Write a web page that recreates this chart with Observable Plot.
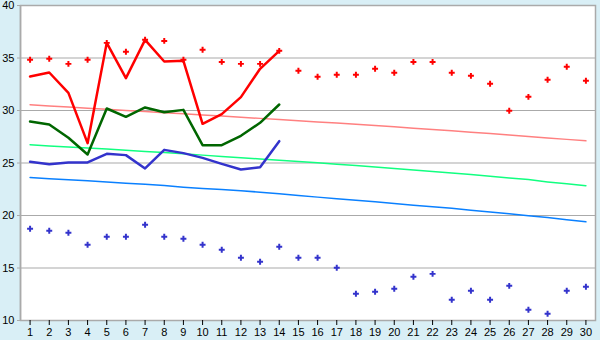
<!DOCTYPE html>
<html><head><meta charset="utf-8">
<script src="https://cdn.jsdelivr.net/npm/d3@7"></script>
<script src="https://cdn.jsdelivr.net/npm/@observablehq/plot@0.6"></script>
<style>
html,body{margin:0;padding:0;background:#d9eff6;}
#chart svg{display:block;}
</style>
</head><body><div id="chart"></div>
<script>
const days = d3.range(1, 31);
const yTicks = [10, 15, 20, 25, 30, 35, 40];
const redLine = [33.24,33.62,31.68,26.89,36.44,33.08,36.73,34.67,34.73,28.73,29.65,31.27,33.97,35.68];
const greenLine = [28.95,28.67,27.40,25.81,30.19,29.40,30.29,29.84,30.06,26.70,26.70,27.59,28.83,30.57];
const blueLine = [25.11,24.89,25.05,25.05,25.87,25.75,24.48,26.25,25.94,25.49,24.92,24.38,24.60,27.08];
const redPts = [34.83,34.92,34.44,34.83,36.44,35.59,36.73,36.63,34.83,35.78,34.63,34.44,34.44,35.68,33.78,33.21,33.40,33.40,33.97,33.59,34.63,34.63,33.59,33.30,32.54,29.97,31.30,32.92,34.16,32.83];
const bluePts = [18.73,18.54,18.35,17.21,17.97,17.97,19.11,17.97,17.78,17.21,16.73,15.97,15.59,17.02,15.97,15.97,15.02,12.54,12.73,13.02,14.16,14.44,11.97,12.83,11.97,13.30,11.02,10.64,12.83,13.21];
const pinkTrend = [30.54,30.43,30.33,30.22,30.11,30.01,29.90,29.79,29.69,29.58,29.47,29.36,29.25,29.14,29.02,28.91,28.80,28.68,28.57,28.45,28.32,28.19,28.06,27.93,27.80,27.66,27.52,27.38,27.25,27.11];
const mintTrend = [26.73,26.63,26.53,26.43,26.33,26.22,26.10,25.99,25.87,25.75,25.63,25.51,25.39,25.27,25.15,25.02,24.89,24.76,24.62,24.48,24.34,24.20,24.05,23.90,23.74,23.58,23.42,23.20,23.02,22.83];
const skyTrend = [23.62,23.50,23.40,23.30,23.20,23.08,22.97,22.86,22.70,22.58,22.48,22.36,22.22,22.06,21.90,21.75,21.60,21.45,21.30,21.14,20.98,20.83,20.68,20.50,20.33,20.16,19.98,19.80,19.60,19.40];

const seq = (arr) => arr.map((v, i) => ({day: days[i], v}));

const chart = Plot.plot({
  width: 600,
  height: 340,
  marginLeft: 20,
  marginRight: 5,
  marginTop: 5,
  marginBottom: 20,
  style: {background: "transparent", fontFamily: "'Liberation Sans', Arial, sans-serif", fontSize: "11px", color: "#000"},
  x: {domain: [0.5, 30.5], ticks: days, tickFormat: d => d, tickSize: 5, tickPadding: 3, label: null},
  y: {domain: [10, 40], ticks: yTicks, tickSize: 3, tickPadding: 3, label: null},
  marks: [
    Plot.frame({fill: "white", stroke: "#aaaaaa", strokeWidth: 1.5}),
    Plot.ruleY(yTicks, {stroke: "#aaaaaa", strokeWidth: 1.2}),
    Plot.line(seq(pinkTrend), {x: "day", y: "v", stroke: "#ff8080", strokeWidth: 1.5}),
    Plot.line(seq(mintTrend), {x: "day", y: "v", stroke: "#11ff80", strokeWidth: 1.5}),
    Plot.line(seq(skyTrend), {x: "day", y: "v", stroke: "#0a80ff", strokeWidth: 1.5}),
    Plot.line(seq(blueLine), {x: "day", y: "v", stroke: "#3333cc", strokeWidth: 2.5}),
    Plot.line(seq(greenLine), {x: "day", y: "v", stroke: "#006600", strokeWidth: 2.5}),
    Plot.line(seq(redLine), {x: "day", y: "v", stroke: "#ff0000", strokeWidth: 2.5}),
    Plot.dot(seq(redPts), {x: "day", y: "v", symbol: "cross", r: 2.5, fill: "#ff0000", stroke: null}),
    Plot.dot(seq(bluePts), {x: "day", y: "v", symbol: "cross", r: 2.5, fill: "#3333cc", stroke: null}),
    Plot.axisX({ticks: days, tickFormat: d => d, tickSize: 5, tickPadding: 3, stroke: "#000"}),
    Plot.axisY({ticks: yTicks, tickSize: 3, tickPadding: 3, stroke: "#aaaaaa", fill: "#000"}),
    Plot.ruleX([0.5], {stroke: "#aaaaaa", strokeWidth: 1.5})
  ]
});
document.getElementById("chart").appendChild(chart);
</script>
</body></html>
